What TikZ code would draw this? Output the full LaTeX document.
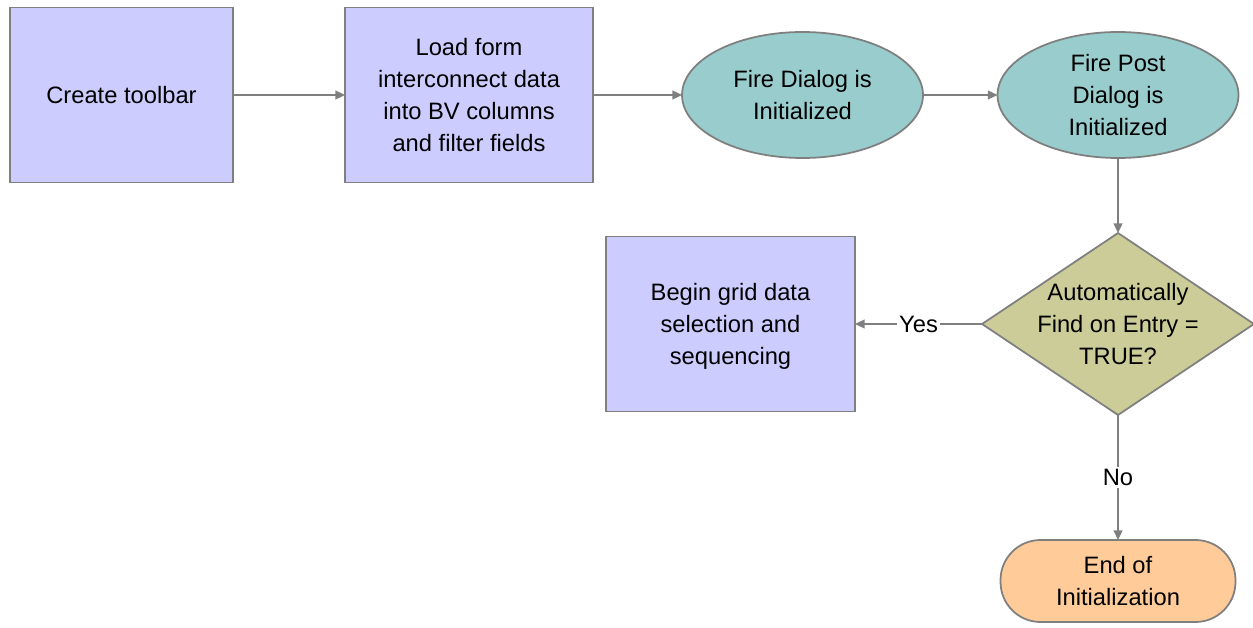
\documentclass[tikz,border=0pt]{standalone}
\usepackage{fontspec}
\setmainfont{Liberation Sans}
\usetikzlibrary{shapes.geometric,arrows.meta}
\definecolor{procfill}{HTML}{CCCCFF}
\definecolor{eventfill}{HTML}{99CCCC}
\definecolor{decfill}{HTML}{CCCC99}
\definecolor{endfill}{HTML}{FFCC99}
\definecolor{edgegray}{HTML}{7F7F7F}
\newcommand{\lines}[1]{\smash{\makebox[0pt]{\raisebox{-5pt}{\begin{tabular}{@{}c@{}}#1\end{tabular}}}}}

\begin{document}
\begin{tikzpicture}[x=0.02cm, y=-0.02cm,
  font=\fontsize{13.5}{18.2}\selectfont,
  proc/.style={draw=edgegray, line width=1pt, fill=procfill, inner sep=0pt, outer sep=0pt},
  event/.style={ellipse, draw=edgegray, line width=1pt, fill=eventfill, inner sep=0pt, outer sep=0pt, minimum width=4.82cm, minimum height=2.52cm},
  decision/.style={diamond, draw=edgegray, line width=1pt, fill=decfill, inner sep=0pt, outer sep=0pt},
  stop/.style={draw=edgegray, line width=1pt, fill=endfill, rounded corners=0.8cm, inner sep=0pt, outer sep=0pt},
  flow/.style={draw=edgegray, line width=1pt, -{Triangle[length=5.5pt,width=5pt]}},
  answer/.style={fill=white, inner sep=1.5pt, text=black}]
\useasboundingbox (0,0) rectangle (1253,628);
% top row
\node[proc, minimum width=4.46cm, minimum height=3.5cm] (toolbar) at (121.5,95) {\lines{Create toolbar}};
\node[proc, minimum width=4.96cm, minimum height=3.5cm] (load) at (469,95) {\lines{Load form\\interconnect data\\into BV columns\\and filter fields}};
\node[event] (fire) at (802.5,95) {\lines{Fire Dialog is\\Initialized}};
\node[event] (post) at (1118,95) {\lines{Fire Post\\Dialog is\\Initialized}};
% decision and outcomes
\node[decision, minimum width=5.44cm, minimum height=3.64cm] (find) at (1118,324) {\lines{Automatically\\Find on Entry =\\TRUE?}};
\node[proc, minimum width=4.98cm, minimum height=3.5cm] (grid) at (730.5,324) {\lines{Begin grid data\\selection and\\sequencing}};
\node[stop, minimum width=4.7cm, minimum height=1.64cm] (finish) at (1118,581) {\lines{End of\\Initialization}};

\draw[flow] (toolbar) -- (load);
\draw[flow] (load) -- (fire);
\draw[flow] (fire) -- (post);
\draw[flow] (post) -- (find);
\draw[flow] (find) -- node[answer] {Yes} (grid);
\draw[flow] (find) -- node[answer] {No} (finish);
\end{tikzpicture}
\end{document}
